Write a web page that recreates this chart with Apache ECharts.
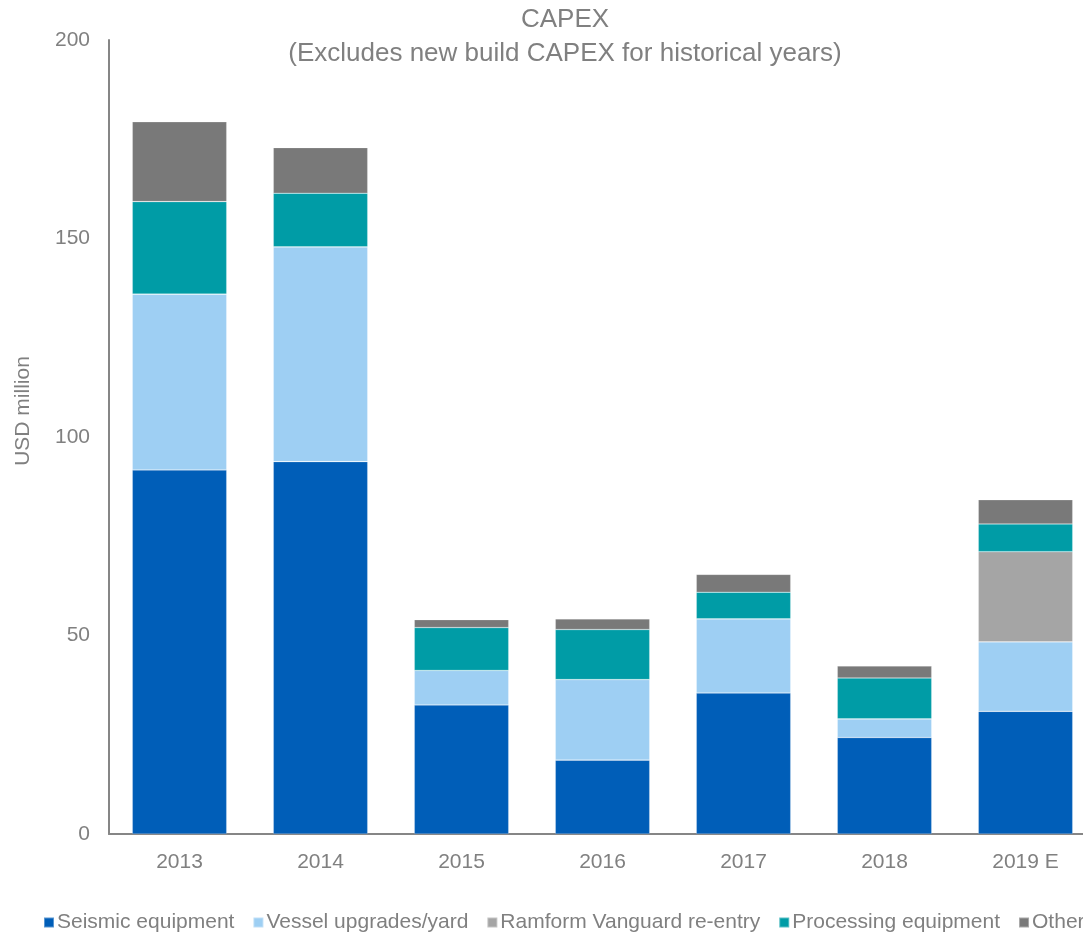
<!DOCTYPE html>
<html>
<head>
<meta charset="utf-8">
<script src="https://cdn.jsdelivr.net/npm/echarts@6/dist/echarts.min.js"></script>
<style>html,body{margin:0;padding:0;background:#fff}#c{width:1083px;height:932px}</style>
</head>
<body>
<div id="c"></div>
<script>
const categories = ['2013', '2014', '2015', '2016', '2017', '2018', '2019 E'];
const seismic = [91.7, 93.8, 32.5, 18.6, 35.5, 24.3, 30.9];
const vessel = [44.3, 54.1, 8.7, 20.3, 18.7, 4.7, 17.5];
const ramform = [0, 0, 0, 0, 0, 0, 22.7];
const processing = [23.3, 13.5, 10.8, 12.6, 6.7, 10.3, 7.0];
const other = [20.1, 11.5, 2.0, 2.7, 4.5, 3.0, 6.1];
const yTicks = [0, 50, 100, 150, 200];

const font = 'Liberation Sans, Arial, sans-serif';
const grey = '#868686';
const txt = '#808080';

function s(name, data, color) {
  return {
    name, type: 'bar', stack: 'total', data,
    barCategoryGap: '33%',
    itemStyle: { color, borderColor: 'rgba(255,255,255,0.35)', borderWidth: 0.6 },
    emphasis: { disabled: true }
  };
}

const chart = echarts.init(document.getElementById('c'), null, { renderer: 'canvas' });
chart.setOption({
  animation: false,
  backgroundColor: '#fff',
  textStyle: { fontFamily: font },
  title: {
    text: 'CAPEX\n(Excludes new build CAPEX for historical years)',
    left: 565, top: 3, textAlign: 'center', padding: 0,
    textStyle: { fontFamily: font, fontSize: 26, fontWeight: 'normal', color: txt, lineHeight: 34 }
  },
  legend: {
    left: 43, top: 912, width: 1600, padding: 0,
    itemWidth: 10, itemHeight: 10, itemGap: 18,
    icon: 'rect',
    textStyle: { fontFamily: font, fontSize: 21, color: txt, padding: [0, 0, 0, -2] },
    data: ['Seismic equipment', 'Vessel upgrades/yard', 'Ramform Vanguard re-entry', 'Processing equipment', 'Other']
  },
  grid: { left: 109, right: -13, top: 40, bottom: 98, containLabel: false, outerBoundsMode: 'none' },
  xAxis: {
    type: 'category', data: categories,
    axisLine: { lineStyle: { color: grey, width: 2 } },
    axisTick: { show: false },
    axisLabel: { color: txt, fontSize: 21, fontFamily: font, margin: 18 }
  },
  yAxis: {
    type: 'value', min: yTicks[0], max: yTicks[yTicks.length - 1], interval: 50,
    name: 'USD million', nameLocation: 'middle', nameGap: 75,
    nameTextStyle: { color: txt, fontSize: 21, fontFamily: font, padding: [0, 0, 0, 52] },
    axisLine: { show: true, lineStyle: { color: grey, width: 2 } },
    axisTick: { show: false },
    splitLine: { show: false },
    axisLabel: { color: txt, fontSize: 21, fontFamily: font, margin: 19 }
  },
  series: [
    s('Seismic equipment', seismic, '#005EB8'),
    s('Vessel upgrades/yard', vessel, '#9ECFF3'),
    s('Ramform Vanguard re-entry', ramform, '#A5A5A5'),
    s('Processing equipment', processing, '#009CA6'),
    s('Other', other, '#797979')
  ]
});
</script>
</body>
</html>
